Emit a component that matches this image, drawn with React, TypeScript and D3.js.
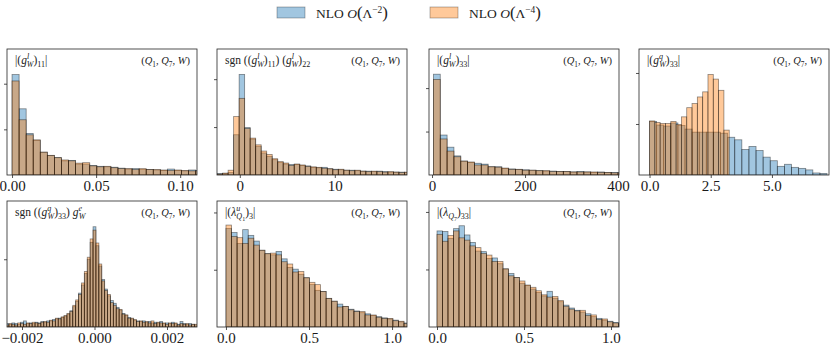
import React, { useEffect, useRef } from "react";
import * as d3 from "d3";

// histogram heights (arbitrary units, y tick = 10)
const p1Blue = [22, 14.5, 9.1, 7.6, 5.0, 4.3, 3.8, 3.1, 3.2, 2.4, 2.4, 2.1, 1.9, 1.8, 1.7, 1.5, 1.3, 1.4, 1.2, 1.2, 1.1, 1.0, 1.3, 1.0, 0.9, 1.1, 1.0];
const p1Orange = [20.6, 12.1, 8.8, 7.7, 5.0, 4.3, 3.8, 3.3, 3.1, 2.6, 2.7, 2.0, 1.8, 1.9, 1.6, 1.4, 1.4, 1.2, 1.4, 1.2, 1.2, 1.1, 1.0, 1.1, 1.0, 0.9, 0.9];

const p2Blue = [0.3, 0.3, 0.5, 8.4, 21, 9.9, 7.5, 6.0, 4.6, 3.9, 3.2, 2.6, 2.3, 2.2, 2.2, 2.0, 1.9, 1.6, 1.5, 1.6, 1.3, 1.2, 1.1, 1.0, 1.0, 0.9, 0.8, 0.8, 0.7, 0.8, 0.7, 0.6, 0.6, 0.6, 0.5];
const p2Orange = [0.2, 0.4, 1.0, 12.2, 16.0, 9.7, 7.7, 6.3, 5.0, 4.3, 3.4, 2.8, 2.5, 2.0, 2.3, 2.1, 1.8, 1.7, 1.6, 1.4, 1.3, 1.1, 1.2, 1.0, 0.9, 1.0, 0.8, 0.7, 0.8, 0.7, 0.6, 0.7, 0.6, 0.5, 0.6];

const p3Blue = [23.2, 9.2, 6.4, 4.4, 3.2, 2.9, 2.7, 2.5, 1.9, 1.9, 1.5, 1.4, 1.3, 1.2, 1.1, 1.0, 0.9, 0.9, 0.8, 0.8, 0.7, 0.8, 0.7, 0.6, 0.7, 0.6, 0.6, 0.5];
const p3Orange = [22.0, 8.3, 5.5, 4.2, 3.2, 3.0, 2.3, 2.3, 1.9, 1.8, 1.6, 1.3, 1.3, 1.1, 1.1, 1.0, 1.0, 0.8, 0.8, 0.8, 0.7, 0.7, 0.7, 0.7, 0.6, 0.6, 0.5, 0.5];

const p4Blue = [10.5, 9.8, 9.6, 10.2, 9.7, 9.0, 8.4, 8.4, 8.4, 8.4, 8.2, 7.4, 6.9, 5.0, 5.6, 4.8, 3.5, 2.8, 1.7, 2.1, 1.5, 1.3, 1.0, 0.4, 0.3];
const p4Orange = [10.6, 10.3, 10.1, 10.1, 10.5, 9.9, 11.4, 13.2, 14.0, 15.3, 16.3, 19.7, 18.8, 16.6, 8.8];

const p5Blue = [
  0.5, 0.4, 0.6, 0.5, 0.4, 0.7, 0.9, 0.5, 0.6, 0.5, 0.7, 0.6, 0.8, 0.7, 0.9,
  0.9, 1.1, 1.2, 1.3, 1.4, 1.6, 1.9, 2.4, 3.0, 3.8, 5.0, 6.2, 7.9, 10.0, 12.5,
  14.8,
  12.0, 9.0, 7.0, 5.6, 4.6, 3.9, 3.5, 2.9, 2.5, 2.0, 1.7, 1.4, 1.2, 1.0, 0.9,
  0.8, 0.9, 0.7, 0.8, 0.6, 0.7, 0.6, 0.8, 0.5, 0.6, 0.5, 0.7, 0.5, 0.4, 0.8, 0.5, 0.4, 0.5, 0.4, 0.3,
];
const p5Orange = [
  0.3, 0.5, 0.4, 0.3, 0.6, 0.5, 0.4, 0.6, 0.5, 0.7, 0.6, 0.5, 0.7, 0.8, 0.7,
  1.0, 0.9, 1.3, 1.2, 1.5, 1.7, 2.0, 2.3, 3.2, 4.0, 4.8, 6.5, 8.2, 10.3, 13.0,
  14.3,
  12.4, 9.3, 6.8, 5.4, 4.8, 3.6, 3.2, 2.7, 2.6, 1.9, 1.8, 1.3, 1.3, 1.1, 0.8,
  0.9, 0.7, 0.8, 0.6, 0.9, 0.5, 0.7, 0.6, 0.6, 0.4, 0.6, 0.5, 0.6, 0.3, 0.5, 0.4, 0.5, 0.3, 0.4, 0.4,
];

const p6Blue = [17.2, 16.5, 14.6, 17.0, 16.0, 15.0, 13.4, 12.8, 12.6, 13.2, 11.9, 10.4, 10.1, 9.2, 8.6, 7.4, 6.4, 6.2, 5.0, 4.5, 4.0, 3.6, 3.1, 2.8, 2.5, 2.3, 2.0, 1.8, 1.6, 1.4, 1.2, 0.9, 0.7];
const p6Orange = [17.8, 15.8, 15.6, 14.6, 15.5, 14.3, 13.4, 12.8, 12.9, 12.6, 11.4, 11.0, 9.6, 9.7, 8.6, 7.8, 7.4, 6.2, 5.0, 4.5, 3.5, 3.6, 3.0, 2.7, 2.7, 2.1, 2.1, 1.7, 1.5, 1.5, 1.1, 1.0, 0.6];

const p7Blue = [16.7, 16.6, 15.4, 17.1, 17.6, 16.0, 14.7, 13.2, 13.1, 11.9, 12.0, 11.0, 10.1, 9.3, 8.6, 7.6, 7.2, 6.6, 6.0, 5.4, 6.2, 5.0, 4.4, 3.8, 3.3, 2.9, 2.6, 2.3, 1.8, 1.5, 1.2, 1.0, 0.8, 0.6];
const p7Orange = [16.1, 14.9, 15.9, 16.7, 15.5, 15.1, 14.1, 13.8, 12.8, 12.5, 11.4, 11.4, 10.1, 8.9, 8.6, 8.0, 7.3, 6.9, 6.3, 5.6, 5.2, 5.3, 4.6, 3.6, 3.1, 2.8, 2.9, 2.0, 2.1, 1.3, 1.4, 0.9, 0.7, 0.5];

const legendExponents = ["−2", "−4"];

type Seg = [string, string?, number?];

const coupling = (sup: string, back: number, idx: string): Seg[] => [
  ["(", ""],
  ["g", "i"],
  [sup, "supi"],
  ["W", "subi", -back],
  [")", ""],
  [idx, "sub"],
];

const panels = [
  {
    col: 0, row: 0,
    label: [["|", ""] as Seg, ...coupling("l", 2.4, "11"), ["|", ""] as Seg],
    xDomain: [-0.003, 0.11], xTicks: [0, 0.05, 0.1], fmt: d3.format(".2f"),
    yMax: 27.6, yTicks: [10, 20],
    blue: { start: 0, width: 0.0042, values: p1Blue },
    orange: { start: 0, width: 0.0042, values: p1Orange },
  },
  {
    col: 1, row: 0,
    label: [["sgn (", ""] as Seg, ...coupling("l", 2.4, "11"), [") ", ""] as Seg, ...coupling("l", 2.4, "22")],
    xDomain: [-2.4, 17.6], xTicks: [0, 10], fmt: d3.format("d"),
    yMax: 26.3, yTicks: [10, 20],
    blue: { start: -2.39, width: 0.58, values: p2Blue },
    orange: { start: -2.39, width: 0.58, values: p2Orange },
  },
  {
    col: 2, row: 0,
    label: [["|", ""] as Seg, ...coupling("l", 2.4, "33"), ["|", ""] as Seg],
    xDomain: [-6.5, 402], xTicks: [0, 200, 400], fmt: d3.format("d"),
    yMax: 29, yTicks: [10, 20],
    blue: { start: 3, width: 14.7, values: p3Blue },
    orange: { start: 3, width: 14.7, values: p3Orange },
  },
  {
    col: 3, row: 0,
    label: [["|", ""] as Seg, ...coupling("q", 3.8, "33"), ["|", ""] as Seg],
    xDomain: [-0.43, 7.33], xTicks: [0, 2.5, 5], fmt: d3.format(".1f"),
    yMax: 24.7, yTicks: [10, 20],
    blue: { start: 0, width: 0.29, values: p4Blue },
    orange: { start: 0, width: 0.217, values: p4Orange },
  },
  {
    col: 0, row: 1,
    label: [["sgn (", ""] as Seg, ...coupling("q", 3.8, "33"), [") ", ""] as Seg, ["g", "i"] as Seg, ["e", "supi"] as Seg, ["W", "subi", -3.4] as Seg],
    xDomain: [-0.002414, 0.002828], xTicks: [-0.002, 0, 0.002], fmt: d3.format(".3f"),
    yMax: 18.6, yTicks: [10],
    blue: { start: -0.00244, width: 0.00008, values: p5Blue },
    orange: { start: -0.00244, width: 0.00008, values: p5Orange },
  },
  {
    col: 1, row: 1,
    label: [["|(", ""], ["λ", "i"], ["u", "supi"], ["Q", "subi", -3.8], ["1", "ss"], [")", ""], ["3", "sub"], ["|", ""]] as Seg[],
    xDomain: [-0.054, 1.09], xTicks: [0, 0.5, 1], fmt: d3.format(".1f"),
    yMax: 22, yTicks: [10, 20],
    blue: { start: 0, width: 0.0335, values: p6Blue },
    orange: { start: 0, width: 0.0335, values: p6Orange },
  },
  {
    col: 2, row: 1,
    label: [["|(", ""], ["λ", "i"], ["Q", "subi"], ["7", "ss"], [")", ""], ["33", "sub"], ["|", ""]] as Seg[],
    xDomain: [-0.046, 1.046], xTicks: [0, 0.5, 1], fmt: d3.format(".1f"),
    yMax: 21.9, yTicks: [10, 20],
    blue: { start: 0, width: 0.0316, values: p7Blue },
    orange: { start: 0, width: 0.0316, values: p7Orange },
  },
];

const modelLabel: Seg[] = [["(", ""], ["Q", "i"], ["1", "sub"], [", ", ""], ["Q", "i"], ["7", "sub"], [", ", ""], ["W", "i"], [")", ""]];

const blueColor = "#1f77b4";
const orangeColor = "#ff7f0e";
const font = "'Liberation Serif', 'DejaVu Serif', serif";

function writeSegs(text: any, segs: Seg[], fs: number) {
  let cur = 0;
  segs.forEach(([t, k = "", dx = 0]) => {
    const small = k.startsWith("sub") || k.startsWith("sup") || k === "ss";
    const italic = k.endsWith("i");
    let target = 0;
    if (k.startsWith("sup")) target = -0.4 * fs;
    else if (k.startsWith("sub")) target = 0.28 * fs;
    else if (k === "ss") target = 0.45 * fs;
    let size = small ? fs * 0.7 : fs;
    if (k === "ss") size = fs * 0.52;
    if (k === "big") size = fs * 1.25;
    text
      .append("tspan")
      .attr("dx", dx)
      .attr("dy", target - cur)
      .attr("font-size", size)
      .attr("font-style", italic ? "italic" : "normal")
      .text(t);
    cur = target;
  });
}

const App = () => {
  const svgRef = useRef<SVGSVGElement>(null);

  useEffect(() => {
    const width = 830;
    const height = 345;
    const colLeft = [7, 217, 429, 639];
    const rowTop = [49, 201];
    const panelW = 190;
    const panelH = 126;

    const svg = d3.select(svgRef.current);
    svg.selectAll("*").remove();
    svg.attr("width", width).attr("height", height);

    svg.append("rect").attr("width", width).attr("height", height).attr("fill", "#fff");

    panels.forEach((p, pi) => {
      const x0 = colLeft[p.col];
      const y0 = rowTop[p.row];
      const x = d3.scaleLinear().domain(p.xDomain).range([x0, x0 + panelW]);
      const y = d3.scaleLinear().domain([0, p.yMax]).range([y0 + panelH, y0]);

      const clipId = `clip-${pi}`;
      svg
        .append("clipPath")
        .attr("id", clipId)
        .append("rect")
        .attr("x", x0)
        .attr("y", y0)
        .attr("width", panelW)
        .attr("height", panelH);

      const g = svg.append("g").attr("clip-path", `url(#${clipId})`);

      const series: [typeof p.blue, string][] = [
        [p.blue, blueColor],
        [p.orange, orangeColor],
      ];
      series.forEach(([s, color]) => {
        g.append("g")
          .selectAll("rect")
          .data(s.values)
          .join("rect")
          .attr("x", (_, i) => x(s.start + i * s.width))
          .attr("width", (_, i) => x(s.start + (i + 1) * s.width) - x(s.start + i * s.width))
          .attr("y", (d) => y(d))
          .attr("height", (d) => y(0) - y(d))
          .attr("fill", color)
          .attr("fill-opacity", 0.42)
          .attr("stroke", "#000")
          .attr("stroke-opacity", 0.45)
          .attr("stroke-width", 0.8);
      });

      const xAxis = svg
        .append("g")
        .attr("transform", `translate(0,${y0 + panelH})`)
        .call(d3.axisBottom(x).tickValues(p.xTicks).tickFormat(p.fmt as any).tickSize(3).tickPadding(2));
      xAxis.select(".domain").remove();
      xAxis.attr("font-family", font).attr("font-size", 15);
      xAxis.selectAll("line").attr("stroke", "#262626").attr("stroke-width", 0.8);
      xAxis
        .selectAll("text")
        .attr("fill", "#1a1a1a")
        .attr("font-family", font)
        .attr("font-size", 15);

      const yAxis = svg
        .append("g")
        .attr("transform", `translate(${x0},0)`)
        .call(d3.axisLeft(y).tickValues(p.yTicks).tickFormat(() => "").tickSize(3));
      yAxis.select(".domain").remove();
      yAxis.selectAll("line").attr("stroke", "#262626").attr("stroke-width", 0.8);

      svg
        .append("rect")
        .attr("x", x0)
        .attr("y", y0)
        .attr("width", panelW)
        .attr("height", panelH)
        .attr("fill", "none")
        .attr("stroke", "#262626")
        .attr("stroke-width", 0.8);

      const left = svg
        .append("text")
        .attr("x", x0 + 8)
        .attr("y", y0 + 15)
        .attr("font-family", font)
        .attr("fill", "#222")
        .style("white-space", "pre");
      writeSegs(left, p.label as Seg[], 11.5);

      const right = svg
        .append("text")
        .attr("x", x0 + panelW - 7)
        .attr("y", y0 + 15)
        .attr("text-anchor", "end")
        .attr("font-family", font)
        .attr("fill", "#222")
        .style("white-space", "pre");
      writeSegs(right, modelLabel, 10.5);
    });

    // legend
    const legendX = [277, 430];
    [blueColor, orangeColor].forEach((color, i) => {
      svg
        .append("rect")
        .attr("x", legendX[i])
        .attr("y", 7)
        .attr("width", 28)
        .attr("height", 11)
        .attr("fill", color)
        .attr("fill-opacity", 0.42)
        .attr("stroke", "#000")
        .attr("stroke-opacity", 0.35)
        .attr("stroke-width", 0.8);
      const t = svg
        .append("text")
        .attr("x", legendX[i] + 39)
        .attr("y", 18)
        .attr("font-family", font)
        .attr("fill", "#222")
        .style("white-space", "pre");
      writeSegs(
        t,
        [["NLO ", ""], ["O", "i"], ["(", "big"], ["Λ", ""], [legendExponents[i], "sup"], [")", "big"]],
        13.5
      );
    });
  }, []);

  return <svg ref={svgRef} style={{ position: "absolute", left: 0, top: 0 }}></svg>;
};

export default App;
